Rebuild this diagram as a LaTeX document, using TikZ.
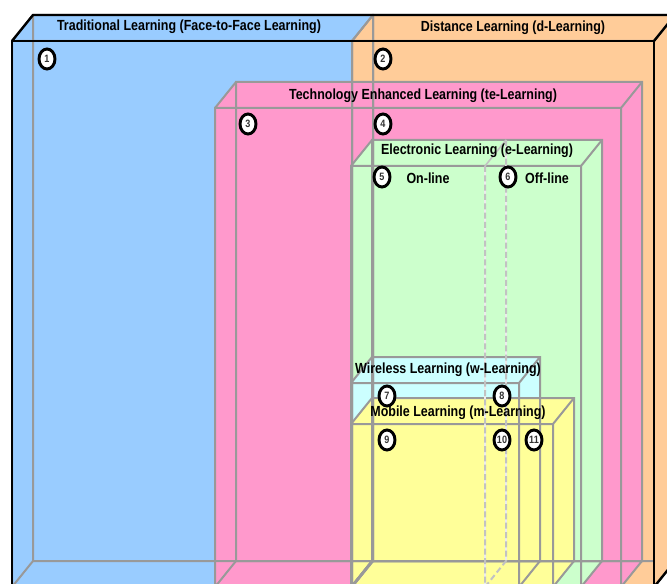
\documentclass[tikz,border=0pt]{standalone}
\usepackage{fontspec}
\newfontfamily\labelfont{Liberation Sans}[FakeStretch=0.85]
\usepackage{tikz}
\usetikzlibrary{shapes.geometric}

\definecolor{tradblue}{HTML}{99CCFF}
\definecolor{distorange}{HTML}{FFCC99}
\definecolor{tepink}{HTML}{FF99CC}
\definecolor{egreen}{HTML}{CCFFCC}
\definecolor{wcyan}{HTML}{CCFFFF}
\definecolor{myellow}{HTML}{FFFF99}
\definecolor{edgegray}{HTML}{999999}

\begin{document}
\begin{tikzpicture}[x=0.75pt, y=-0.75pt]
            \tikzstyle{edge} = [draw=edgegray, line width=1.5pt]
            \tikzstyle{outline} = [draw=black, line width=1.8pt, line join=round]
            \tikzstyle{divider} = [draw=edgegray!60, line width=1.5pt, dash pattern=on 4.5pt off 2.5pt]
            \tikzstyle{title} = [inner sep=0pt, font=\labelfont\bfseries\fontsize{11}{13}\selectfont]
            \tikzstyle{num} = [draw, ellipse, line width=2.2pt, fill=white, inner sep=0pt,
                               minimum width=12pt, minimum height=15pt,
                               font=\labelfont\bfseries\fontsize{8}{8}\selectfont, text=black!80]

            \useasboundingbox (0,0) rectangle (667,584);
            \clip (0,0) rectangle (667,584);

            % Box faces (front left / front right / front top / colour)
            \foreach \l/\r/\t/\c in {12/352/41/tradblue, 352/654/41/distorange,
                                     215/621/108/tepink, 351/581/166/egreen,
                                     351/519/383/wcyan, 351/553/424/myellow}
                \fill[\c] (\l,587) -- (\l,\t) -- (\l+21,\t-26) -- (\r+21,\t-26)
                          -- (\r+21,561) -- (\r,587) -- cycle;

            % Box edges
            \foreach \l/\r/\t in {12/352/41, 352/654/41, 215/621/108,
                                  351/581/166, 351/519/383, 351/553/424}
                \draw[edge] (\l,\t) rectangle (\r,587) (\l+21,\t-26) rectangle (\r+21,561)
                            (\l,\t) -- ++(21,-26) (\r,\t) -- ++(21,-26)
                            (\l,587) -- ++(21,-26) (\r,587) -- ++(21,-26);

            % outer side face hides the back edges behind it
            \fill[distorange] (654,41) -- (675,15) -- (675,561) -- (654,587) -- cycle;

            % On-line / Off-line split
            \draw[draw=white!85!gray, line width=1.5pt] (485,166) -- (485,587) (506,140) -- (506,561);
            \draw[divider] (485,166) -- (485,587) (506,140) -- (506,561) (485,587) -- (506,561);
            \draw[draw=edgegray!60, line width=1.2pt] (485,166) -- (506,140);

            % Outer outline
            \draw[outline] (12,587) -- (12,41) -- (654,41) -- (654,587);
            \draw[outline] (12,41) -- (33,15) -- (675,15) -- (654,41);
            \draw[outline] (675,15) -- (675,561) -- (654,587);

            % Titles
            \node[title] (trad) at (189,27) {Traditional Learning (Face-to-Face Learning)};
            \node[title] (dist) at (513,28) {Distance Learning (d-Learning)};
            \node[title] (tel) at (423,96) {Technology Enhanced Learning (te-Learning)};
            \node[title] (el) at (477,151) {Electronic Learning (e-Learning)};
            \node[title] (wl) at (448,370) {Wireless Learning (w-Learning)};
            \node[title] (ml) at (458,413) {Mobile Learning (m-Learning)};
            \node[title] (on) at (428,178) {On-line};
            \node[title] (off) at (547,178) {Off-line};

            % Numbered regions
            \node[num] (n1) at (47,59) {1};
            \node[num] (n2) at (383,59) {2};
            \node[num] (n3) at (248,124) {3};
            \node[num] (n4) at (383,124) {4};
            \node[num] (n5) at (382,177) {5};
            \node[num] (n6) at (508,177) {6};
            \node[num] (n7) at (387,396) {7};
            \node[num] (n8) at (502,396) {8};
            \node[num] (n9) at (387,440) {9};
            \node[num] (n10) at (502,440) {10};
            \node[num] (n11) at (534,440) {11};
\end{tikzpicture}
\end{document}
